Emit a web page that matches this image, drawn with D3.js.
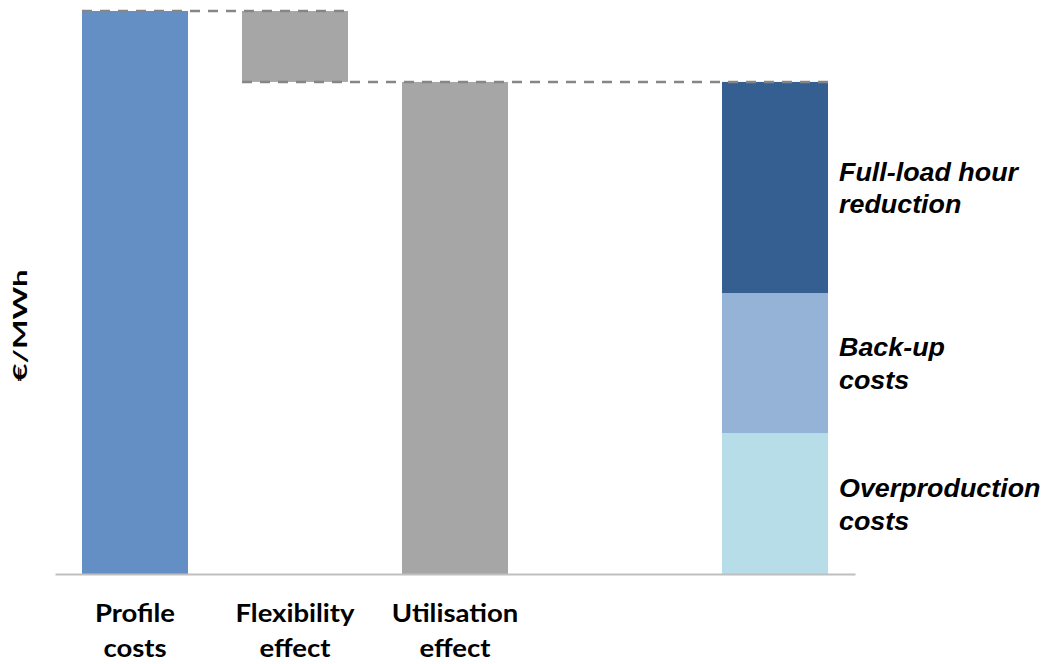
<!DOCTYPE html>
<html>
<head>
<meta charset="utf-8">
<script src="https://cdn.jsdelivr.net/npm/d3@7"></script>
<style>
  html, body { margin: 0; padding: 0; background: #fff; }
  svg { display: block; }
</style>
</head>
<body>
<svg id="chart" width="1044" height="664"></svg>
<script>
// Category slots along the x axis (the fourth slot is an empty gap)
const categories = ["Profile costs", "Flexibility effect", "Utilisation effect", "gap", "Components"];
const categoryLabels = [["Profile", "costs"], ["Flexibility", "effect"], ["Utilisation", "effect"], [], []];

// Waterfall steps: each bar floats from its start to its end value (€/MWh, relative units)
const waterfallCats = ["Profile costs", "Flexibility effect", "Utilisation effect"];
const waterfallStart = [0, 87.4, 0];
const waterfallEnd = [100, 100, 87.4];
const waterfallColors = ["#648fc5", "#a6a6a6", "#a6a6a6"];

// Decomposition of the utilisation effect, stacked bottom to top
const componentNames = ["Overproduction costs", "Back-up costs", "Full-load hour reduction"];
const componentValues = [25.0, 24.9, 37.5];
const componentLabels = [["Overproduction", "costs"], ["Back-up", "costs"], ["Full-load hour", "reduction"]];
const componentColors = ["#b7dee8", "#95b3d7", "#365f91"];

const svg = d3.select("#chart");

const x = d3.scaleBand()
  .domain(categories)
  .range([55, 855])
  .paddingInner(0.3375)
  .paddingOuter(0.16875);

const y = d3.scaleLinear()
  .domain([0, 100])
  .range([574, 11]);

// Waterfall bars
svg.append("g")
  .selectAll("rect")
  .data(waterfallCats)
  .join("rect")
  .attr("x", d => x(d))
  .attr("width", x.bandwidth())
  .attr("y", (d, i) => y(waterfallEnd[i]))
  .attr("height", (d, i) => y(waterfallStart[i]) - y(waterfallEnd[i]))
  .attr("fill", (d, i) => waterfallColors[i]);

// Stacked components
const stackRows = [Object.fromEntries(componentNames.map((n, i) => [n, componentValues[i]]))];
const series = d3.stack().keys(componentNames)(stackRows);

svg.append("g")
  .selectAll("rect")
  .data(series)
  .join("rect")
  .attr("x", x("Components"))
  .attr("width", x.bandwidth())
  .attr("y", s => y(s[0][1]))
  .attr("height", s => y(s[0][0]) - y(s[0][1]))
  .attr("fill", (s, i) => componentColors[i]);

// Component labels, centred on each segment (slightly widened lettering)
const labelX = x("Components") + x.bandwidth() + 11;
const labelGroup = svg.append("g")
  .attr("font-family", "'Liberation Sans', Arial, sans-serif")
  .attr("font-weight", "bold")
  .attr("font-style", "italic")
  .attr("font-size", 25)
  .attr("fill", "#000");

series.forEach((s, i) => {
  const mid = y((s[0][0] + s[0][1]) / 2);
  const t = labelGroup.append("text")
    .attr("transform", `translate(${labelX},${mid - 7}) scale(1.075,1)`);
  componentLabels[i].forEach((line, j) => {
    t.append("tspan")
      .attr("x", 0)
      .attr("dy", j === 0 ? 0 : 33)
      .text(line);
  });
});

// Dashed connectors between waterfall levels
const connectors = [
  { from: "Profile costs", to: "Flexibility effect", value: waterfallEnd[0] },
  { from: "Flexibility effect", to: "Components", value: waterfallStart[1] }
];
svg.append("g")
  .selectAll("line")
  .data(connectors)
  .join("line")
  .attr("x1", d => x(d.from))
  .attr("x2", d => x(d.to) + x.bandwidth())
  .attr("y1", d => y(d.value))
  .attr("y2", d => y(d.value))
  .attr("stroke", "#868686")
  .attr("stroke-width", 2.5)
  .attr("stroke-dasharray", "10,8");

// X axis baseline
const xAxis = svg.append("g")
  .attr("transform", `translate(0,${y(0)})`)
  .call(d3.axisBottom(x).tickSize(0).tickSizeOuter(0).tickFormat(""));
xAxis.select(".domain").attr("stroke", "#bfbfbf").attr("stroke-width", 2);

// Category labels
const catGroup = svg.append("g")
  .attr("font-family", "Lato, 'Open Sans', sans-serif")
  .attr("font-weight", "bold")
  .attr("font-size", 25)
  .attr("text-anchor", "middle")
  .attr("fill", "#000");

categories.forEach((c, i) => {
  if (!categoryLabels[i].length) return;
  const t = catGroup.append("text")
    .attr("transform", `translate(${x(c) + x.bandwidth() / 2},622) scale(1.1,1)`);
  categoryLabels[i].forEach((line, j) => {
    t.append("tspan")
      .attr("x", 0)
      .attr("dy", j === 0 ? 0 : 35)
      .text(line);
  });
});

// Y axis title
svg.append("text")
  .attr("transform", `translate(27,${(y(0) + y(100)) / 2 + 33}) rotate(-90)`)
  .attr("text-anchor", "middle")
  .attr("font-family", "Lato, 'Open Sans', sans-serif")
  .attr("font-weight", "bold")
  .attr("font-size", 18)
  .attr("textLength", 112)
  .attr("lengthAdjust", "spacingAndGlyphs")
  .attr("fill", "#000")
  .text("€/MWh");
</script>
</body>
</html>
